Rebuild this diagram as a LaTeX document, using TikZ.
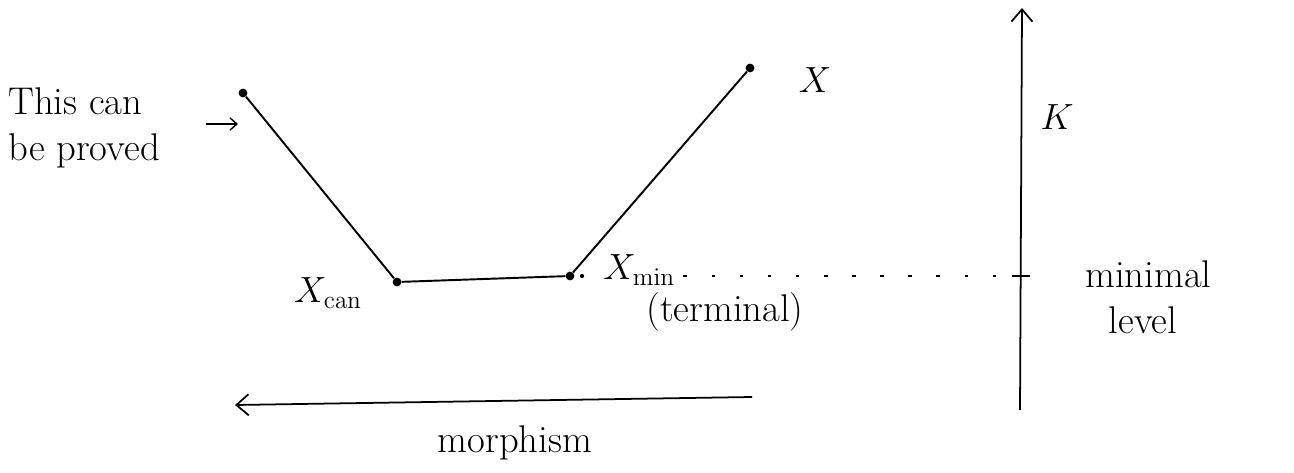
\documentclass[tikz,border=0pt]{standalone}
\usetikzlibrary{arrows.meta}
\begin{document}
\begin{tikzpicture}[x=0.02cm,y=-0.02cm,
  lbl/.style={inner sep=0pt,font=\fontsize{22}{26}\selectfont},
  pt/.style={circle,fill=black,inner sep=0pt,minimum size=5pt},
  curve/.style={line width=1.1pt},
  dots/.style={line width=0.8pt,dash pattern=on 2pt off 14pt},
  arr/.style={line width=1pt,-{Straight Barb[length=7pt,width=12pt]}}]
\useasboundingbox (0,0) rectangle (1294,473);
% points of the curve
\node[pt] (top) at (243,93) {};
\node[pt] (can) at (397,282) {};
\node[pt] (min) at (570,276) {};
\node[pt] (xr) at (750,68) {};
\draw[curve] (top) -- (can) -- (min) -- (xr);
% labels
\node[lbl] (lX) at (815,80) {$X$};
\node[lbl] (lcan) at (328,293) {$X_{\mathrm{can}}$};
\node[lbl,anchor=west] (lmin) at (603,270) {$X_{\mathrm{min}}$};
\node[lbl] (lterm) at (725,312) {(terminal)};
\node[lbl,align=left,anchor=west] (lproved) at (8,128) {This can\\be proved};
\coordinate (pa) at (206,124);
\coordinate (pb) at (238,124);
\draw[line width=0.8pt,-{Straight Barb[length=4pt,width=7pt]}] (pa) -- (pb);
% vertical axis
\coordinate (ab) at (1020,410);
\coordinate (at) at (1022,8);
\draw[arr] (ab) -- (at);
\node[lbl] (lK) at (1057,117) {$K$};
\coordinate (tick) at (1021,276);
\draw[line width=1pt] ([xshift=-5pt]tick) -- ([xshift=5pt]tick);
\coordinate (d0) at (582,276);
\fill (d0) circle (1.2pt);
\draw[dots] (lmin.east |- tick) ++(8,0) -- (tick);
\node[lbl,align=left,anchor=west] (lmin2) at (1085,297) {minimal\\\ \ level};
% morphism arrow
\coordinate (ms) at (752,397);
\coordinate (me) at (235,405);
\draw[arr] (ms) -- (me);
\node[lbl] (lmor) at (515,443) {morphism};
\end{tikzpicture}
\end{document}
